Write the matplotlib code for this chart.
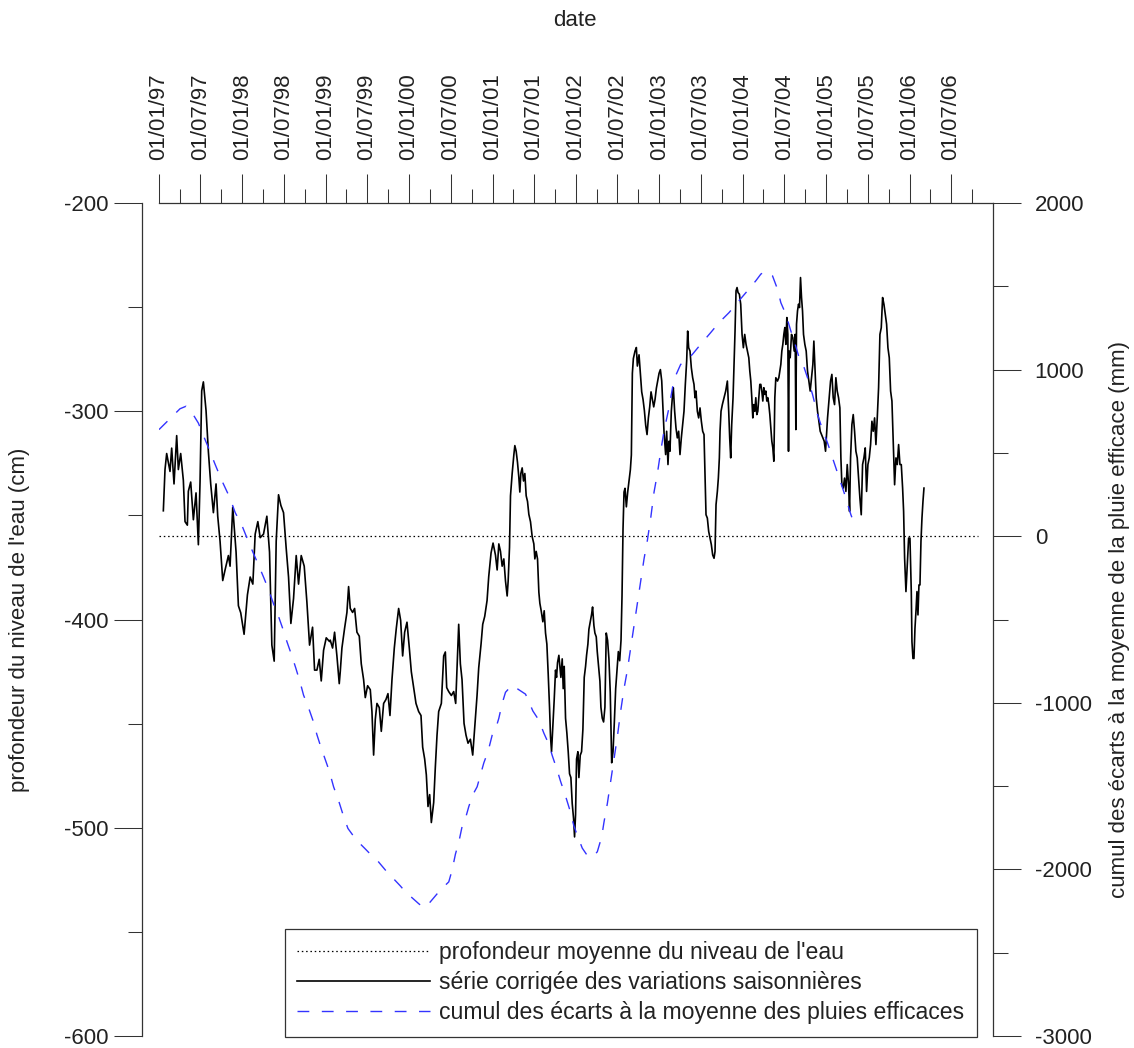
import datetime as dt
import matplotlib
matplotlib.use("Agg")
import matplotlib.pyplot as plt
import matplotlib.dates as mdates
from matplotlib.ticker import MultipleLocator, FixedLocator

plt.rcParams['font.family'] = ['Liberation Sans', 'DejaVu Sans']
plt.rcParams['axes.unicode_minus'] = False
plt.rcParams['lines.scale_dashes'] = False

# --- data (time in years since 01/01/1997) ---
niveau_t = [0.052, 0.072, 0.092, 0.112, 0.132, 0.152, 0.180, 0.212, 0.232, 0.260, 0.292, 0.312, 0.340, 0.352, 0.380,
            0.412, 0.444, 0.472, 0.492, 0.512, 0.532, 0.564, 0.592, 0.620, 0.652, 0.684, 0.704, 0.732, 0.764, 0.792,
            0.832, 0.852, 0.884, 0.924, 0.952, 0.980, 1.020, 1.060, 1.093, 1.125, 1.153, 1.185, 1.213, 1.253, 1.293,
            1.325, 1.353, 1.381, 1.405, 1.433, 1.461, 1.493, 1.525, 1.553, 1.581, 1.613, 1.645, 1.673, 1.705, 1.741,
            1.773, 1.805, 1.841, 1.865, 1.893, 1.921, 1.945, 1.973, 2.005, 2.045,
            2.053, 2.081, 2.105, 2.133, 2.161, 2.173, 2.193, 2.225, 2.253, 2.273, 2.293, 2.321, 2.345, 2.373, 2.401,
            2.425, 2.453, 2.473, 2.501, 2.533, 2.553, 2.573, 2.593, 2.613, 2.641, 2.665, 2.693, 2.721, 2.745, 2.769,
            2.793, 2.821, 2.845, 2.873, 2.897, 2.921, 2.945, 2.973, 3.001, 3.025, 3.053, 3.081, 3.113, 3.141, 3.161,
            3.185, 3.205, 3.225, 3.245, 3.265, 3.293, 3.313, 3.333, 3.353, 3.385, 3.413, 3.433, 3.449, 3.473, 3.505,
            3.533, 3.557, 3.573, 3.593, 3.613, 3.633, 3.657, 3.681, 3.705, 3.733, 3.761, 3.785, 3.813, 3.833, 3.861,
            3.881, 3.905, 3.933, 3.953, 3.981, 4.005,
            4.034, 4.054, 4.074, 4.094, 4.114, 4.134, 4.154, 4.174, 4.186, 4.202, 4.214, 4.234, 4.254, 4.266, 4.282,
            4.298, 4.314, 4.326, 4.338, 4.354, 4.370, 4.386, 4.402, 4.418, 4.434, 4.454, 4.474, 4.494, 4.506, 4.522,
            4.538, 4.554, 4.566, 4.582, 4.602, 4.618, 4.634, 4.650, 4.666, 4.682, 4.694, 4.706, 4.722, 4.738, 4.754,
            4.766, 4.778, 4.794, 4.806, 4.818, 4.834, 4.846, 4.858, 4.874, 4.890, 4.906, 4.922, 4.938, 4.954, 4.970,
            4.982, 4.994, 5.006, 5.022, 5.034, 5.050, 5.066, 5.082, 5.098, 5.114, 5.126, 5.142, 5.154, 5.170, 5.186,
            5.198, 5.214, 5.226, 5.242, 5.254, 5.274, 5.286, 5.298, 5.314, 5.330, 5.346, 5.362, 5.378, 5.394, 5.410,
            5.427, 5.443, 5.459, 5.475, 5.491, 5.507, 5.523, 5.539, 5.551, 5.563, 5.575, 5.587, 5.603, 5.619, 5.635,
            5.651, 5.663, 5.675, 5.687, 5.707, 5.723, 5.735, 5.755, 5.771, 5.787, 5.803, 5.819, 5.835, 5.851, 5.867,
            5.883, 5.899, 5.915, 5.931, 5.947, 5.963, 5.979, 5.995, 6.011, 6.027, 6.043, 6.055,
            6.074, 6.086, 6.102, 6.114, 6.126, 6.142, 6.154, 6.166, 6.182, 6.198, 6.214, 6.230, 6.246, 6.262, 6.278,
            6.294, 6.310, 6.326, 6.338, 6.350, 6.366, 6.382, 6.398, 6.414, 6.426, 6.438, 6.454, 6.470, 6.486, 6.502,
            6.518, 6.534, 6.546, 6.558, 6.574, 6.590, 6.606, 6.622, 6.638, 6.654, 6.666, 6.678, 6.694, 6.706, 6.718,
            6.726, 6.738, 6.754, 6.774, 6.794, 6.814, 6.830, 6.842, 6.854, 6.866, 6.882, 6.894, 6.906, 6.918, 6.930,
            6.942, 6.958, 6.974, 6.990, 7.006, 7.022, 7.038, 7.054, 7.071, 7.083, 7.095, 7.107, 7.119, 7.131, 7.143,
            7.155, 7.167, 7.179, 7.191, 7.203, 7.215, 7.227, 7.239, 7.251, 7.263, 7.275, 7.287, 7.299, 7.311, 7.323,
            7.335, 7.347, 7.359, 7.371, 7.383, 7.395, 7.415, 7.431, 7.443, 7.455, 7.467, 7.479, 7.491, 7.503, 7.515,
            7.527, 7.539, 7.547, 7.555, 7.567, 7.583, 7.599, 7.615, 7.627, 7.635, 7.643, 7.655, 7.667, 7.679, 7.691,
            7.703, 7.715, 7.727, 7.743, 7.759, 7.775, 7.791, 7.807, 7.823, 7.839, 7.851, 7.863, 7.879, 7.895, 7.911,
            7.927, 7.943, 7.959, 7.975, 7.991,
            8.015, 8.035, 8.051, 8.067, 8.083, 8.099, 8.115, 8.131, 8.147, 8.163, 8.175, 8.187, 8.203, 8.219, 8.235,
            8.251, 8.267, 8.279, 8.291, 8.307, 8.323, 8.339, 8.355, 8.371, 8.387, 8.403, 8.419, 8.435, 8.451, 8.467,
            8.483, 8.499, 8.515, 8.531, 8.547, 8.563, 8.579, 8.595, 8.611, 8.627, 8.643, 8.659, 8.675, 8.691, 8.707,
            8.723, 8.739, 8.755, 8.771, 8.787, 8.803, 8.819, 8.835, 8.851, 8.867, 8.883, 8.899, 8.915, 8.927, 8.939,
            8.955, 8.971, 8.987, 9.003, 9.019, 9.027, 9.039, 9.051, 9.063, 9.075, 9.087, 9.099, 9.111, 9.123, 9.135,
            9.147, 9.159, 9.171]
niveau_cm = [-347.8, -328.0, -320.3, -324.6, -328.9, -317.7, -334.9, -311.7, -328.0, -320.3, -333.2, -353.0, -354.7, -338.4, -334.0,
             -352.1, -339.2, -364.1, -334.0, -290.2, -285.9, -299.7, -319.4, -334.9, -348.7, -334.9, -350.4, -362.4, -381.3, -376.2,
             -369.3, -374.4, -346.1, -367.6, -393.4, -396.8, -407.1, -388.2, -379.6, -383.0, -359.0, -353.0, -360.7, -359.0, -350.4,
             -367.6, -412.3, -420.0, -362.4, -340.1, -345.2, -348.7, -365.9, -379.6, -401.9, -389.9, -369.3, -383.0, -369.3, -374.4,
             -391.6, -412.3, -403.7, -424.3, -424.3, -419.1, -429.5, -414.8, -408.8, -410.6,
             -409.9, -413.7, -406.1, -417.5, -430.8, -425.1, -413.7, -404.2, -396.6, -384.2, -394.7, -396.6, -394.7, -406.1, -408.0,
             -421.3, -428.9, -437.5, -431.8, -433.7, -444.2, -465.1, -448.0, -440.3, -442.3, -453.7, -440.3, -438.4, -435.6, -446.1,
             -428.9, -413.7, -404.2, -394.7, -400.4, -417.5, -406.1, -401.3, -413.7, -425.1, -432.7, -440.3, -444.2, -446.1, -461.3,
             -467.0, -474.6, -489.8, -484.1, -497.5, -487.9, -470.8, -455.6, -444.2, -440.3, -417.5, -415.6, -432.7, -434.6, -436.5,
             -434.6, -440.3, -423.2, -402.3, -421.3, -428.9, -449.9, -455.6, -459.4, -457.5, -465.1, -451.8, -436.5, -423.2, -411.8,
             -402.3, -398.5, -390.9, -379.4, -368.0, -363.3,
             -369.1, -376.2, -363.7, -367.3, -374.4, -370.9, -381.5, -388.7, -381.5, -365.5, -340.6, -329.9, -321.0, -316.5, -319.2,
             -324.6, -331.7, -338.8, -329.9, -327.2, -333.5, -329.9, -340.6, -343.3, -349.5, -353.1, -360.2, -363.7, -370.9, -367.3,
             -370.9, -386.9, -392.2, -395.8, -401.1, -395.8, -406.5, -411.8, -426.1, -442.1, -456.3, -463.5, -451.0, -438.5, -424.3,
             -427.8, -420.7, -417.2, -422.5, -427.8, -418.9, -433.2, -422.5, -447.4, -454.6, -463.5, -474.1, -475.9, -488.4, -495.5,
             -504.4, -493.7, -467.0, -463.5, -475.9, -465.2, -463.5, -452.8, -427.8, -422.5, -417.2, -411.8, -404.7, -401.1, -397.6,
             -394.0, -402.9, -406.5, -408.3, -415.4, -424.3, -429.6, -442.1, -447.4, -449.2, -442.1, -406.5, -410.0, -418.9, -435.0,
             -468.8, -463.5, -449.2, -433.2, -424.3, -415.4, -419.8, -410.0, -388.7, -356.6, -338.8, -337.0, -345.9, -338.8, -333.5,
             -328.1, -321.0, -281.8, -274.7, -271.1, -269.4, -278.3, -272.9, -281.8, -290.7, -294.3, -299.6, -306.8, -311.2, -303.2,
             -297.9, -290.7, -294.3, -297.9, -294.3, -288.9, -285.4, -281.8, -280.0, -285.4, -299.6, -310.3,
             -320.8, -309.6, -325.6, -314.4, -319.2, -300.0, -293.5, -288.7, -300.0, -308.0, -312.8, -309.6, -320.8, -312.8, -306.4,
             -300.0, -287.1, -275.9, -261.5, -269.5, -271.1, -279.1, -283.9, -287.1, -293.5, -290.3, -300.0, -303.2, -298.4, -304.8,
             -309.6, -311.2, -330.4, -349.7, -351.3, -357.7, -360.9, -364.1, -369.0, -370.6, -367.4, -344.9, -338.5, -332.1, -322.4,
             -309.6, -300.0, -296.8, -293.5, -290.3, -285.5, -300.0, -312.8, -322.4, -306.4, -293.5, -277.5, -261.5, -242.2, -240.6,
             -243.0, -243.8, -248.6, -263.1, -269.5, -263.1, -267.9, -271.1, -274.3, -280.7, -285.5, -293.5, -303.2, -296.8, -300.0,
             -293.5, -301.6, -300.0, -293.5, -287.1, -287.1, -290.3, -295.1, -288.7, -291.9, -290.3, -295.1, -293.5, -296.8, -301.6,
             -308.0, -314.4, -317.6, -324.0, -293.5, -283.9, -285.5, -283.9, -280.7, -277.5, -271.1, -267.9, -263.1, -259.8, -267.9,
             -255.0, -263.1, -319.2, -271.1, -274.3, -263.1, -264.7, -271.1, -263.1, -308.8, -258.2, -251.8, -248.6, -250.2, -235.8,
             -245.4, -251.8, -263.1, -267.9, -271.1, -280.7, -285.5, -290.3, -283.9, -277.5, -266.3, -277.5, -293.5, -300.0, -304.8,
             -309.6, -311.2, -312.8, -314.4, -319.2,
             -303.2, -293.5, -285.5, -282.3, -293.5, -296.8, -283.9, -290.3, -293.5, -298.4, -322.4, -335.3, -336.9, -332.1, -338.5,
             -325.6, -335.3, -348.1, -322.4, -306.4, -301.6, -309.6, -319.2, -322.4, -332.1, -341.7, -349.7, -325.6, -322.4, -317.6,
             -338.5, -325.6, -322.4, -316.0, -304.8, -309.6, -303.2, -316.0, -303.2, -288.7, -263.1, -259.9, -245.4, -248.6, -253.4,
             -258.2, -269.5, -274.3, -290.3, -295.1, -314.4, -335.3, -322.4, -325.6, -316.0, -325.6, -325.6, -336.9, -348.1, -370.6,
             -386.6, -373.8, -360.9, -360.9, -386.6, -410.7, -418.7, -418.7, -404.3, -396.2, -386.6, -397.8, -383.4, -383.4, -362.5,
             -351.3, -343.3, -336.9]

pluie_t = [0.0, 0.132, 0.252, 0.324, 0.380, 0.472, 0.532, 0.604, 0.672, 0.752, 0.852, 0.913, 0.993, 1.053, 1.125,
           1.181, 1.253, 1.313, 1.373, 1.433, 1.493, 1.533, 1.593, 1.641, 1.693, 1.733, 1.793, 1.845, 1.893, 1.941,
           2.001, 2.041, 2.093, 2.153, 2.213, 2.265, 2.333, 2.393, 2.465, 2.533, 2.593, 2.673, 2.753, 2.825, 2.893,
           2.953, 3.034, 3.114, 3.174, 3.234, 3.294, 3.374, 3.474, 3.514, 3.554, 3.594, 3.634, 3.674, 3.714, 3.762,
           3.814, 3.854, 3.894, 3.946, 3.994, 4.034, 4.074, 4.114, 4.154, 4.194, 4.254, 4.294, 4.394, 4.434, 4.482,
           4.554, 4.614, 4.674, 4.714, 4.774, 4.814, 4.874, 4.922, 4.974, 5.014, 5.074, 5.135, 5.195, 5.255, 5.307,
           5.335, 5.375, 5.415, 5.455, 5.495, 5.535, 5.575, 5.615, 5.655, 5.695, 5.735, 5.775, 5.815, 5.855, 5.895,
           5.935, 5.975, 6.015, 6.054, 6.114, 6.174, 6.254, 6.334, 6.394, 6.494, 6.614, 6.714, 6.834, 6.934, 7.055,
           7.155, 7.215, 7.275, 7.355, 7.415, 7.455, 7.515, 7.575, 7.615, 7.675, 7.735, 7.775, 7.835, 7.895, 7.955,
           8.015, 8.035, 8.115, 8.215, 8.295, 8.355]
pluie_mm = [640, 705, 765, 780, 754, 679, 604, 518, 432, 335, 228, 142, 66, -9, -95,
            -159, -245, -320, -406, -482, -568, -632, -718, -793, -879, -954, -1030, -1105, -1191, -1266,
            -1352, -1409, -1504, -1587, -1682, -1754, -1801, -1837, -1873, -1908, -1932, -1980, -2027, -2063, -2099,
            -2134, -2170, -2206, -2230, -2206, -2170, -2123, -2075, -2004, -1908, -1837, -1742, -1694, -1623, -1552,
            -1504, -1433, -1361, -1290, -1195, -1160, -1093, -1004, -937, -915, -893, -915, -948, -993, -1049,
            -1104, -1182, -1249, -1316, -1405, -1471, -1560, -1638, -1739, -1794, -1872, -1917, -1928, -1894, -1805,
            -1716, -1605, -1471, -1338, -1204, -1049, -915, -804, -670, -537, -403, -269, -136, -25, 109,
            265, 376, 510, 630, 771, 941, 1031, 1061, 1091, 1152, 1222, 1282, 1342, 1402, 1473,
            1533, 1573, 1593, 1563, 1483, 1402, 1332, 1232, 1172, 1071, 1011, 951, 851, 730, 640,
            560, 530, 410, 259, 129, 49]

moyenne_cm = -360
moyenne_t = [0.0, 9.82]

labels = ["profondeur moyenne du niveau de l'eau",
          "série corrigée des variations saisonnières",
          "cumul des écarts à la moyenne des pluies efficaces"]

origine = mdates.date2num(dt.datetime(1997, 1, 1))
def to_dates(t):
    return [origine + x * 365.25 for x in t]

W, H = 1134, 1048
fig = plt.figure(figsize=(W / 100, H / 100), dpi=100)
ax = fig.add_axes([159 / W, 1 - 1036 / H, (993 - 159) / W, (1036 - 203) / H])
ax2 = ax.twinx()

grey = '#333333'
l_moy, = ax.plot(to_dates(moyenne_t), [moyenne_cm, moyenne_cm], color='black', lw=0.9,
                 linestyle=(0, (1.1, 2.0)))
l_niv, = ax.plot(to_dates(niveau_t), niveau_cm, color='black', lw=1.2)
l_plu, = ax2.plot(to_dates(pluie_t), pluie_mm, color='#3333ff', lw=1.0, linestyle=(0, (8.5, 9)))

ax.set_xlim(origine, mdates.date2num(dt.datetime(2007, 1, 1)))
ax.set_ylim(-600, -200)
ax2.set_ylim(-3000, 2000)

# top date axis: labelled ticks every 6 months, small ticks every 3 months
maj = [mdates.date2num(dt.datetime(1997 + i // 2, 1 + 6 * (i % 2), 1)) for i in range(20)]
mino = [mdates.date2num(dt.datetime(1997 + i // 4, 1 + 3 * (i % 4), 1)) for i in range(40)]
ax.xaxis.tick_top()
ax.xaxis.set_major_locator(FixedLocator(maj))
ax.xaxis.set_minor_locator(FixedLocator(mino))
ax.xaxis.set_major_formatter(mdates.DateFormatter('%d/%m/%y'))
ax.tick_params(axis='x', which='major', length=21, width=0.75, color=grey, pad=10,
               labelsize=16, labelrotation=90, labelcolor='#222222')
ax.tick_params(axis='x', which='minor', length=10, width=0.75, color=grey)

ax.yaxis.set_major_locator(MultipleLocator(100))
ax.yaxis.set_minor_locator(MultipleLocator(50))
ax.tick_params(axis='y', which='major', length=20, width=0.75, color=grey, pad=4,
               labelsize=16, labelcolor='#222222')
ax.tick_params(axis='y', which='minor', length=10, width=0.75, color=grey)

ax2.yaxis.set_major_locator(MultipleLocator(1000))
ax2.yaxis.set_minor_locator(MultipleLocator(500))
ax2.tick_params(axis='y', which='major', length=20, width=0.75, color=grey, pad=10,
                labelsize=16, labelcolor='#222222')
ax2.tick_params(axis='y', which='minor', length=11, width=0.75, color=grey)

for s in ['bottom', 'right']:
    ax.spines[s].set_visible(False)
for s in ['bottom', 'top', 'left']:
    ax2.spines[s].set_visible(False)
ax.spines['left'].set_position(('outward', 12.2))
for sp in [ax.spines['left'], ax.spines['top'], ax2.spines['right']]:
    sp.set_color(grey)
    sp.set_linewidth(0.9)

fig.text(575 / W, 1 - 20 / H, 'date', ha='center', va='center', fontsize=16, color='#222222')
fig.text(20 / W, 1 - 620 / H, "profondeur du niveau de l'eau (cm)", rotation=90,
         ha='center', va='center', fontsize=16, color='#222222')
fig.text(1120 / W, 1 - 620 / H, "cumul des écarts à la moyenne de la pluie efficace (mm)", rotation=90,
         ha='center', va='center', fontsize=16, color='#222222')

leg = ax2.legend([l_moy, l_niv, l_plu], labels, loc='lower right',
                 bbox_to_anchor=(977 / W, 11 / H), bbox_transform=fig.transFigure,
                 borderaxespad=0, fancybox=False, edgecolor=grey, framealpha=1,
                 handlelength=5.75, handletextpad=0.4, borderpad=0.55, labelspacing=0.3,
                 fontsize=16.6)
leg.get_frame().set_linewidth(0.9)
for t in leg.get_texts():
    t.set_color('#222222')

fig.savefig('out.png', dpi=100, facecolor='white')
